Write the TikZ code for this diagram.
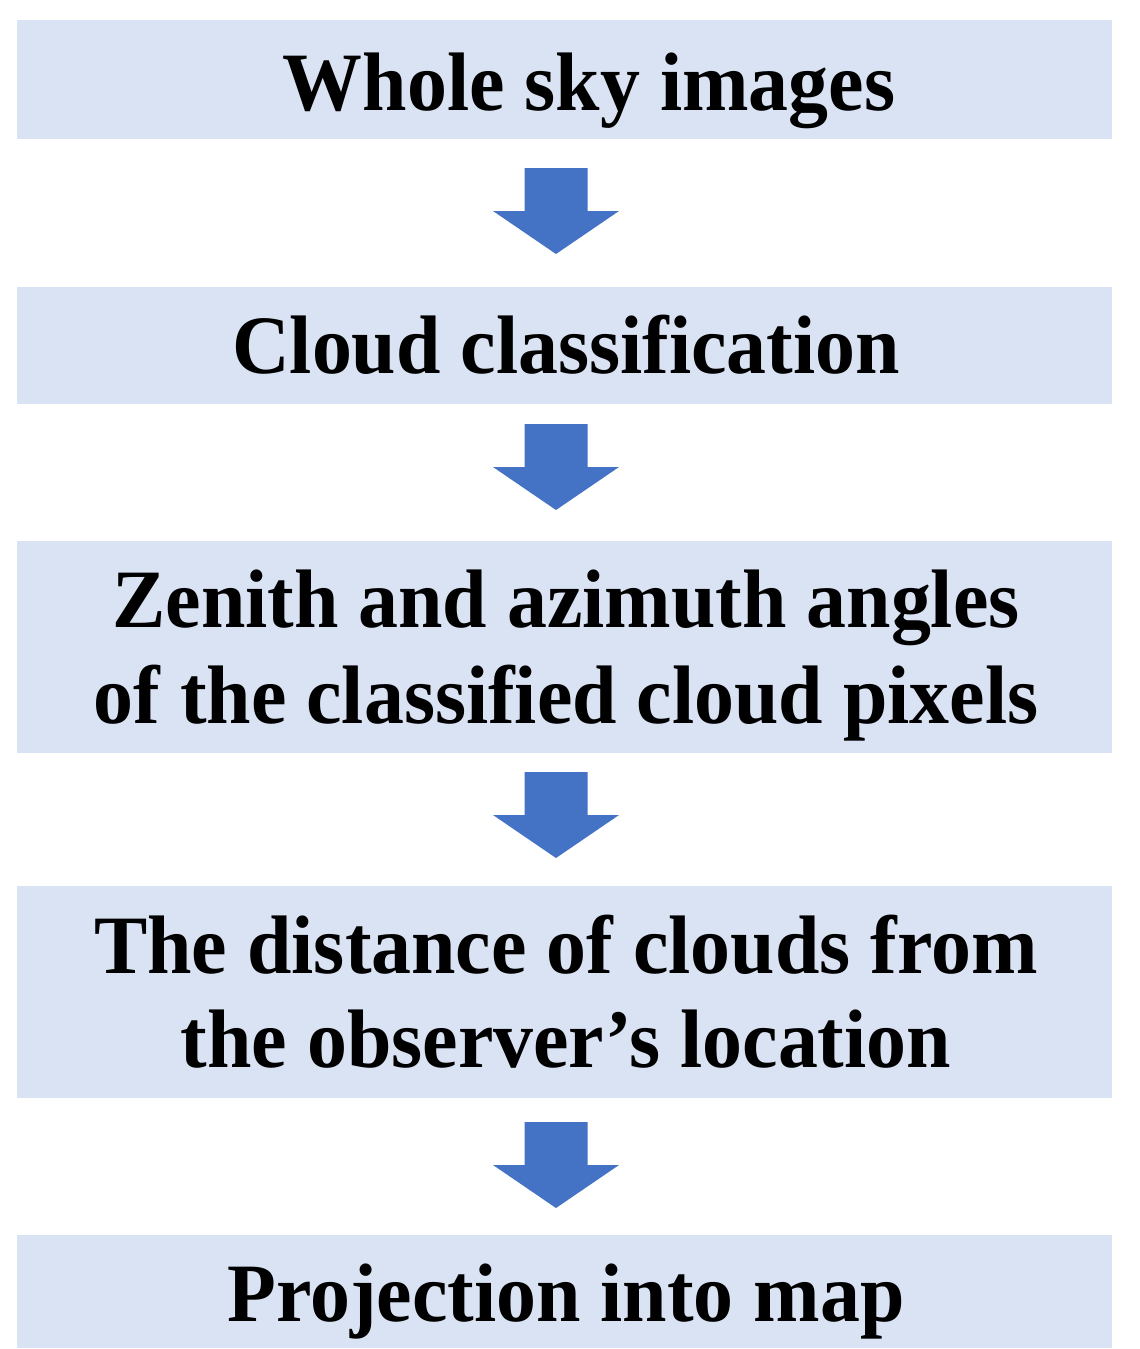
\documentclass[tikz,border=0pt]{standalone}
\usepackage{graphicx}
\usepackage{fontspec}
\setmainfont{Liberation Serif}
\definecolor{boxfill}{HTML}{DAE3F3}
\definecolor{arrowblue}{HTML}{4472C4}
\newcommand{\steptext}[1]{\scalebox{0.962}[1]{#1}}
\begin{document}
\begin{tikzpicture}[x=1pt,y=-1pt,
  stepbox/.style={fill=boxfill, draw=none, minimum width=1095pt, inner sep=0pt},
  steplabel/.style={anchor=base, inner sep=0pt, font=\fontsize{83}{94}\selectfont\bfseries},
  blockarrow/.style={fill=arrowblue, draw=none}]
\useasboundingbox (0,0) rectangle (1140,1349);
\node[stepbox, minimum height=119pt] (b1) at (564.5,79.5) {};
\node[stepbox, minimum height=117pt] (b2) at (564.5,345.5) {};
\node[stepbox, minimum height=212pt] (b3) at (564.5,647) {};
\node[stepbox, minimum height=212pt] (b4) at (564.5,992) {};
\node[stepbox, minimum height=113pt] (b5) at (564.5,1291.5) {};
\node[steplabel] (t1) at (589,110) {\steptext{Whole sky images}};
\node[steplabel] (t2) at (566,373) {\steptext{Cloud classification}};
\node[steplabel] (t3a) at (566,627) {\steptext{Zenith and azimuth angles}};
\node[steplabel] (t3b) at (566,723) {\steptext{of the classified cloud pixels}};
\node[steplabel] (t4a) at (566,973) {\steptext{The distance of clouds from}};
\node[steplabel] (t4b) at (566,1067) {\steptext{the observer’s location}};
\node[steplabel] (t5) at (566,1321) {\steptext{Projection into map}};
\coordinate (a1) at (556,168);
\coordinate (a2) at (556,424);
\coordinate (a3) at (556,772);
\coordinate (a4) at (556,1122);
\foreach \a in {a1,a2,a3,a4}{
  \fill[blockarrow] (\a) ++(-31.5,0) -- ++(63,0) -- ++(0,43) -- ++(31.5,0) -- ++(-63,43) -- ++(-63,-43) -- ++(31.5,0) -- cycle;
}
\end{tikzpicture}
\end{document}
